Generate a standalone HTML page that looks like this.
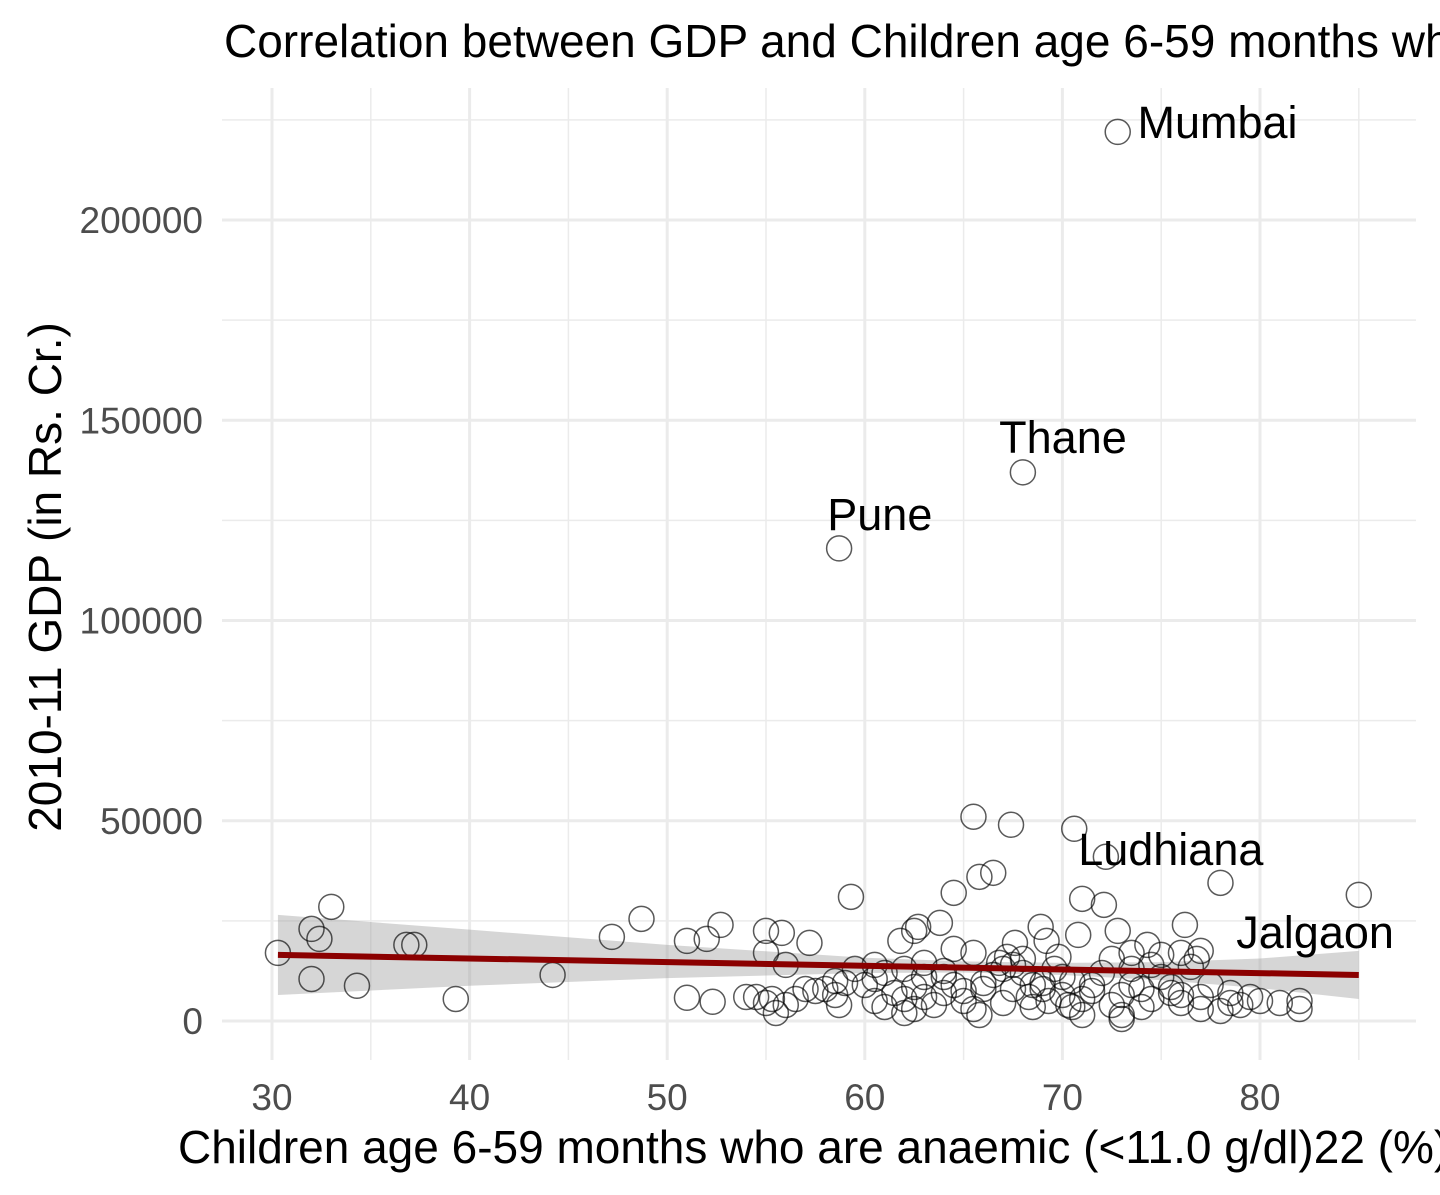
<!DOCTYPE html>
<html><head><meta charset="utf-8"><style>
html,body{margin:0;padding:0;background:#fff;overflow:hidden}
svg{display:block;font-family:"Liberation Sans",sans-serif}
</style></head><body>
<svg id="chart" width="1440" height="1195" viewBox="0 0 1440 1195">
<text x="224" y="57" font-size="46" fill="#000">Correlation between GDP and Children age 6-59 months who are anaemic</text>
<g id="grid"></g>
<g id="band"></g>
<g id="points"></g>
<g id="fit"></g>
<g id="labels"></g>
<g id="ticks"></g>
<text x="178" y="1163" font-size="46" fill="#000">Children age 6-59 months who are anaemic (&lt;11.0 g/dl)22 (%)</text>
<text transform="translate(61,577) rotate(-90)" text-anchor="middle" font-size="46" fill="#000">2010-11 GDP (in Rs. Cr.)</text>
</svg>
<script>
const xTicks=[30,40,50,60,70,80];
const yTicks=[0,50000,100000,150000,200000];
const px=[72.8,68,58.7,65.5,67.4,70.6,72.2,66.5,65.8,78,85,59.3,64.5,71,72.1,33,48.7,52.7,63.8,62.7,62.5,68.9,76.2,72.8,55,55.8,32,32.4,47.2,51,52,57.2,61.8,36.8,37.2,30.3,55,64.5,65.5,67.6,69.2,70.8,73.5,74.3,76,77,75,56,59.5,60.5,61,62,63,64,32,34.3,44.2,39.3,51,52.3,54.5,55,55.3,55.5,56,57.5,58,58.5,58.7,59,60,60.5,61,61.5,62,62,62.5,63,63.5,64,64.5,65,65.5,65.8,66,66.5,67,67,67.5,68,68.3,68.5,69,69.3,69.6,70,70.3,70.5,71,71.5,72,72.5,73,73,73.5,74,74.5,75,75.5,76,76.5,77,77,77.5,78,78.5,79,79.5,80,81,82,82,76.8,69.8,68,67.2,66.8,71.5,73.5,74.5,75.5,70,69,63,60.5,58.5,57,56.5,54,66,64,62.5,72.5,76,78.5,65,67.5,68.5,70.5,71,73,74];
const py=[222000,137000,118000,51000,49000,48000,41000,37000,36000,34500,31500,31000,32000,30500,29000,28500,25500,24000,24500,23500,22500,23500,24000,22500,22500,22000,23000,20500,21000,20000,20500,19500,20000,19000,19000,17000,17000,18000,17000,19500,20000,21500,17000,19000,17000,17500,16500,14000,13000,14000,12000,13000,11000,12500,10500,8800,11500,5500,5800,4800,6000,4500,5500,2000,4000,7500,8000,6500,4000,9500,9000,5000,3500,7000,5500,2000,8500,6000,4000,7000,9000,5000,3000,1500,8000,11500,13000,4500,14000,12000,6000,3500,8000,5000,13000,6500,4000,10000,5500,7500,12000,4000,1500,6500,9000,3500,5500,11000,7000,4500,13500,3000,6000,9000,2500,7000,4000,6000,5000,4500,3000,5000,15500,16000,15500,16000,14500,9000,13000,14000,8500,11000,9500,14500,10500,10000,8000,5500,6000,9500,11000,3000,15500,6500,4500,7500,8000,9000,3500,1500,500,8000];
const fitX=[30.3,85];
const fitY=[16500,11500];
const bandX=[30.3,40,50,60,65,70,75,80,85];
const bandLo=[6500,8800,10700,12000,12100,11500,10200,8200,5500];
const bandHi=[26500,22800,19000,15800,14900,14500,14700,15600,17500];
const labNames=["Mumbai","Thane","Pune","Ludhiana","Jalgaon"];
const labX=[73.8,66.8,58.1,70.8,78.8];
const labY=[220500,141800,122600,39000,18200];
const X=v=>272+(v-30)*19.76, Y=v=>1021-v*0.004005;
const NS="http://www.w3.org/2000/svg";
function mk(t,a,p){const e=document.createElementNS(NS,t);for(const k in a)e.setAttribute(k,a[k]);document.getElementById(p).appendChild(e);return e;}
[35,45,55,65,75,85].forEach(v=>{const e=mk('line',{x1:X(v),x2:X(v),y1:88,y2:1060,stroke:'#ebebeb','stroke-width':1.5},'grid');

});
[25000,75000,125000,175000,225000].forEach(v=>{const e=mk('line',{x1:222,x2:1416,y1:Y(v),y2:Y(v),stroke:'#ebebeb','stroke-width':1.5},'grid');

});
xTicks.forEach(v=>{const e=mk('line',{x1:X(v),x2:X(v),y1:88,y2:1060,stroke:'#ebebeb','stroke-width':3},'grid');


const t=mk('text',{x:X(v),y:1110,'text-anchor':'middle','font-size':37,fill:'#4d4d4d'},'ticks');t.textContent=v;

});
yTicks.forEach(v=>{const e=mk('line',{x1:222,x2:1416,y1:Y(v),y2:Y(v),stroke:'#ebebeb','stroke-width':3},'grid');


const t=mk('text',{x:203,y:Y(v)+13,'text-anchor':'end','font-size':37,fill:'#4d4d4d'},'ticks');t.textContent=v;

});
let d='';bandX.forEach((v,i)=>d+=(i?'L':'M')+X(v)+','+Y(bandHi[i]));
for(let i=bandX.length-1;i>=0;i--)d+='L'+X(bandX[i])+','+Y(bandLo[i]);
const b=mk('path',{d:d+'Z',fill:'#999',opacity:0.4},'band');


px.forEach((v,i)=>{const c=mk('circle',{cx:X(v),cy:Y(py[i]),r:12.5,fill:'none',stroke:'#000','stroke-opacity':0.65,'stroke-width':1.5},'points');

});
const l=mk('line',{x1:X(fitX[0]),y1:Y(fitY[0]),x2:X(fitX[1]),y2:Y(fitY[1]),stroke:'#8b0000','stroke-width':6},'fit');


labNames.forEach((n,i)=>{const t=mk('text',{x:X(labX[i]),y:Y(labY[i]),'font-size':45,fill:'#000'},'labels');t.textContent=n;

});
</script>
</body></html>
